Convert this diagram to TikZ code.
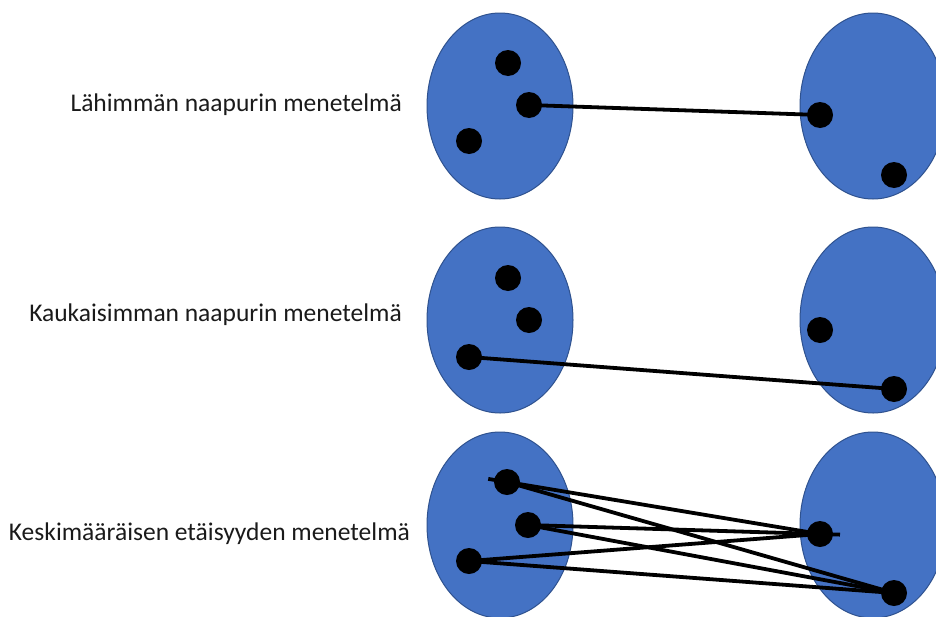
\documentclass[tikz,border=0pt]{standalone}
\usepackage{fontspec}
\setmainfont{Carlito}
\usetikzlibrary{shapes.geometric}
\definecolor{clusterfill}{HTML}{4472C4}
\definecolor{clusteredge}{HTML}{2F528F}
\definecolor{labeltext}{HTML}{1A1A1A}
\begin{document}
\begin{tikzpicture}[x=1pt,y=-1pt,
  cluster/.style={ellipse,draw=clusteredge,line width=1pt,fill=clusterfill,
    minimum width=146pt,minimum height=186pt,inner sep=0pt},
  pt/.style={circle,fill=black,minimum size=26pt,inner sep=0pt},
  link/.style={line width=3.8pt,black},
  method/.style={anchor=base east,inner sep=0pt,text=labeltext,
    font=\fontsize{25.5}{30}\selectfont}]
\useasboundingbox (0,0) rectangle (936,616);

% --- nearest neighbour ---
\node[cluster] (a1) at (500,106) {};
\node[cluster] (b1) at (873,106) {};
\node[pt] (a1p1) at (508,63) {};
\node[pt] (a1p2) at (529,105) {};
\node[pt] (a1p3) at (469,141) {};
\node[pt] (b1p1) at (820,115) {};
\node[pt] (b1p2) at (894,175) {};
\draw[link] (a1p2.center) -- (b1p1.center);
\node[method] (t1) at (402,111) {Lähimmän naapurin menetelmä};

% --- farthest neighbour ---
\node[cluster] (a2) at (500,320) {};
\node[cluster] (b2) at (873,320) {};
\node[pt] (a2p1) at (508,278) {};
\node[pt] (a2p2) at (529,320) {};
\node[pt] (a2p3) at (469,357) {};
\node[pt] (b2p1) at (820,330) {};
\node[pt] (b2p2) at (894,389) {};
\draw[link] (a2p3.center) -- (b2p2.center);
\node[method] (t2) at (402,321) {Kaukaisimman naapurin menetelmä};

% --- average distance ---
\node[cluster] (a3) at (500,525) {};
\node[cluster] (b3) at (873,525) {};
\node[pt] (a3p1) at (507,482) {};
\node[pt] (a3p2) at (528,525) {};
\node[pt] (a3p3) at (469,561) {};
\node[pt] (b3p1) at (820,534) {};
\node[pt] (b3p2) at (894,593) {};
\draw[link,shorten <=-19pt] (a3p1.center) -- (b3p1.center);
\draw[link] (a3p1.center) -- (b3p2.center);
\draw[link,shorten >=-20pt] (a3p2.center) -- (b3p1.center);
\draw[link] (a3p2.center) -- (b3p2.center);
\draw[link] (a3p3.center) -- (b3p1.center);
\draw[link] (a3p3.center) -- (b3p2.center);
\node[method] (t3) at (410,540) {Keskimääräisen etäisyyden menetelmä};
\end{tikzpicture}
\end{document}
